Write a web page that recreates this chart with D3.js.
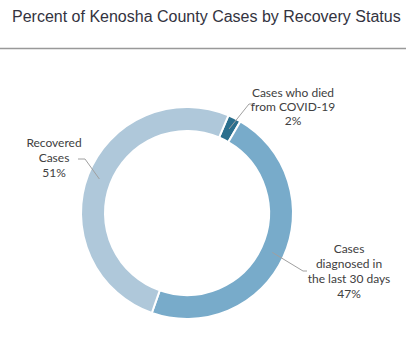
<!DOCTYPE html>
<html>
<head>
<meta charset="utf-8">
<script src="https://cdn.jsdelivr.net/npm/d3@7"></script>
<style>
  html, body { margin: 0; padding: 0; background: #fff; }
  svg { display: block; }
</style>
</head>
<body>
<svg id="chart" width="406" height="346"></svg>
<script>
// ---- data ----
const categories = ["Cases who died from COVID-19", "Cases diagnosed in the last 30 days", "Recovered Cases"];
const labelLines = [["Cases who died", "from COVID-19"], ["Cases", "diagnosed in", "the last 30 days"], ["Recovered", "Cases"]];
const values = [2, 47, 51];
const colors = ["#2b6f8d", "#78abca", "#afc8da"];
const title = "Percent of Kenosha County Cases by Recovery Status";

// ---- layout ----
const svg = d3.select("#chart");
const cx = 187, cy = 213, R = 106, r = 82;
const startDeg = 23;

svg.append("text")
  .attr("x", 12).attr("y", 22)
  .attr("font-family", "'Liberation Sans', Arial, sans-serif")
  .attr("font-size", 16)
  .attr("fill", "#333340")
  .text(title);

svg.append("line")
  .attr("x1", 0).attr("x2", 406)
  .attr("y1", 48.5).attr("y2", 48.5)
  .attr("stroke", "#999").attr("stroke-width", 1.5);

const pie = d3.pie().sort(null)
  .startAngle(startDeg * Math.PI / 180)
  .endAngle(startDeg * Math.PI / 180 + 2 * Math.PI)
  .value(d => d);
const arcs = pie(values);
const arc = d3.arc().innerRadius(r).outerRadius(R);
const midArc = d3.arc().innerRadius(94).outerRadius(94);

const g = svg.append("g").attr("transform", `translate(${cx},${cy})`);
g.selectAll("path.slice").data(arcs).enter().append("path")
  .attr("class", "slice")
  .attr("d", arc)
  .attr("fill", (d, i) => colors[i])
  .attr("stroke", "#fff").attr("stroke-width", 2);

// label layout (relative to center)
const labelLayout = [
  { elbow: [62, -109], end: [68, -109], tx: 106, ty: -120, lh: 14.2 },
  { elbow: [116, 58], end: [120, 58], tx: 162, ty: 36.3, lh: 15 },
  { elbow: [-102, -54], end: [-109, -54], tx: -133, ty: -69.7, lh: 14.7 }
];

arcs.forEach((d, i) => {
  const c = midArc.centroid(d);
  const L = labelLayout[i];
  g.append("polyline")
    .attr("points", [c, L.elbow, L.end].map(p => p.join(",")).join(" "))
    .attr("fill", "none").attr("stroke", "#a0a0a0").attr("stroke-width", 1);
  const lines = labelLines[i].concat([d3.format(".0f")(values[i]) + "%"]);
  const t = g.append("text")
    .attr("font-family", "Lato, 'Liberation Sans', sans-serif")
    .attr("font-size", 12)
    .attr("fill", "#404040")
    .attr("text-anchor", "middle");
  lines.forEach((s, k) => {
    t.append("tspan").attr("x", L.tx).attr("y", L.ty + k * L.lh + 4).text(s);
  });
});
</script>
</body>
</html>
